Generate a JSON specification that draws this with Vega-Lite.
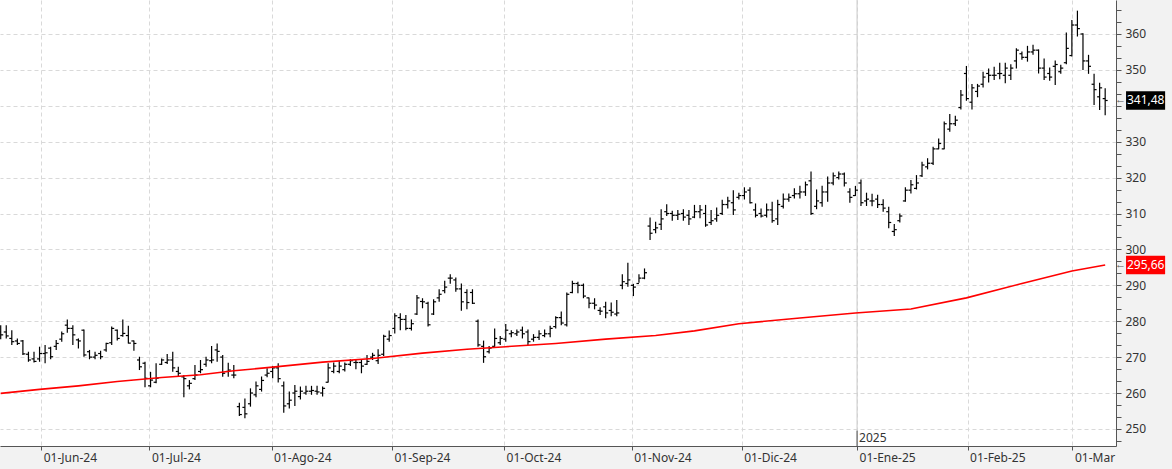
{
  "$schema": "https://vega.github.io/schema/vega-lite/v6.json",
  "width": 1116,
  "height": 446,
  "autosize": {"type": "none"},
  "padding": {"left": 0, "top": 0, "right": 56, "bottom": 23},
  "background": "#f2f2f2",
  "config": {"view": {"fill": "#ffffff", "stroke": null}, "font": "Noto Sans"},
  "datasets": {
    "ohlc": [
      {"i":0,"o":277,"h":278.9,"l":275,"c":276.2},{"i":1,"o":277,"h":278.9,"l":275.2,"c":275.9},{"i":2,"o":275.2,"h":277.5,"l":273.4,"c":274.3},{"i":3,"o":274.5,"h":275.2,"l":273.4,"c":273.8},{"i":4,"o":274.5,"h":274.8,"l":270.6,"c":270.9},
      {"i":5,"o":270.8,"h":271.5,"l":268.7,"c":269.2},{"i":6,"o":269.5,"h":271.5,"l":268.5,"c":268.8},{"i":7,"o":269.5,"h":272.9,"l":268.7,"c":271},{"i":8,"o":271,"h":273.4,"l":268.3,"c":271.2},{"i":9,"o":272.5,"h":272.9,"l":269.4,"c":270.1},
      {"i":10,"o":273,"h":274.8,"l":272,"c":273.8},{"i":11,"o":275,"h":277.1,"l":274.3,"c":276.5},{"i":12,"o":278.9,"h":280.5,"l":276.8,"c":278},{"i":13,"o":278,"h":278.9,"l":273.4,"c":276.2},{"i":14,"o":274.8,"h":275.2,"l":272.4,"c":274.5},
      {"i":15,"o":277.5,"h":277.7,"l":270.1,"c":270.6},{"i":16,"o":271.5,"h":272,"l":269.4,"c":270},{"i":17,"o":270,"h":271.5,"l":269.4,"c":270.5},{"i":18,"o":271,"h":271.8,"l":269.4,"c":270.1},{"i":19,"o":272,"h":274,"l":271.5,"c":273.8},
      {"i":20,"o":274,"h":278.5,"l":273.4,"c":278},{"i":21,"o":277.5,"h":277.7,"l":274.6,"c":275.2},{"i":22,"o":276,"h":280.5,"l":275.7,"c":276.6},{"i":23,"o":276,"h":278.7,"l":273.8,"c":273.9},{"i":24,"o":274.5,"h":274.6,"l":271.8,"c":273.8},
      {"i":25,"o":269.2,"h":270.1,"l":266.4,"c":267.3},{"i":26,"o":268.3,"h":268.7,"l":261.6,"c":264.1},{"i":27,"o":262,"h":265.9,"l":261.6,"c":263.6},{"i":28,"o":263,"h":268.3,"l":262.7,"c":264.1},{"i":29,"o":268,"h":269.6,"l":267.8,"c":269.2},
      {"i":30,"o":268.5,"h":270.9,"l":268.1,"c":269.2},{"i":31,"o":269.2,"h":271.5,"l":265.9,"c":267},{"i":32,"o":266,"h":267.3,"l":264.5,"c":265.5},{"i":33,"o":264.5,"h":265,"l":258.8,"c":264},{"i":34,"o":262,"h":263.6,"l":261,"c":262.7},
      {"i":35,"o":264,"h":267.8,"l":263.6,"c":265},{"i":36,"o":266,"h":269.2,"l":265.5,"c":266.5},{"i":37,"o":268,"h":270.1,"l":267.3,"c":269.2},{"i":38,"o":269,"h":273.1,"l":268.3,"c":269.2},{"i":39,"o":272,"h":273.8,"l":268.7,"c":271.6},
      {"i":40,"o":270,"h":270.6,"l":264.5,"c":265.5},{"i":41,"o":266,"h":268.4,"l":264.5,"c":266.4},{"i":42,"o":265,"h":267.8,"l":264.1,"c":265},{"i":43,"o":256.2,"h":257.3,"l":253.6,"c":254},{"i":44,"o":256,"h":258.5,"l":253,"c":254.2},
      {"i":45,"o":257,"h":261.3,"l":256.2,"c":260},{"i":46,"o":259.5,"h":263.2,"l":258.8,"c":262},{"i":47,"o":261,"h":264.6,"l":260.4,"c":263.5},{"i":48,"o":265,"h":266.9,"l":264.4,"c":265.5},{"i":49,"o":266,"h":267.5,"l":264.1,"c":267},
      {"i":50,"o":267,"h":268.3,"l":262.9,"c":264},{"i":51,"o":262,"h":263.2,"l":254.5,"c":256.4},{"i":52,"o":257,"h":260.4,"l":255.7,"c":258},{"i":53,"o":260,"h":262.2,"l":256.4,"c":260.5},{"i":54,"o":259,"h":261.8,"l":258.2,"c":260.5},
      {"i":55,"o":260,"h":262,"l":259.5,"c":260.5},{"i":56,"o":260.5,"h":262,"l":259.5,"c":260.7},{"i":57,"o":260.5,"h":262,"l":259.5,"c":260.3},{"i":58,"o":260,"h":261.8,"l":259,"c":261.3},{"i":59,"o":263,"h":268.3,"l":262.9,"c":267},
      {"i":60,"o":266,"h":268.5,"l":265.5,"c":267.5},{"i":61,"o":266,"h":268.9,"l":265.5,"c":267.5},{"i":62,"o":266.5,"h":268.5,"l":266,"c":268},{"i":63,"o":268,"h":269.4,"l":267.5,"c":269},{"i":64,"o":268.5,"h":269.4,"l":266.6,"c":268.5},
      {"i":65,"o":268.5,"h":269.2,"l":265.5,"c":267.5},{"i":66,"o":268,"h":270.6,"l":267.8,"c":268.8},{"i":67,"o":270,"h":271.2,"l":269.2,"c":270.5},{"i":68,"o":269,"h":272.2,"l":268.1,"c":270.5},{"i":69,"o":270.8,"h":276.2,"l":270.3,"c":275.8},
      {"i":70,"o":275,"h":277.4,"l":274.3,"c":276},{"i":71,"o":278,"h":282.2,"l":276.6,"c":281.5},{"i":72,"o":281,"h":282.2,"l":277.5,"c":280.5},{"i":73,"o":280.5,"h":281.7,"l":277.5,"c":278},{"i":74,"o":278,"h":280.5,"l":277.4,"c":279.3},
      {"i":75,"o":282,"h":287.3,"l":281.7,"c":286.5},{"i":76,"o":285.5,"h":286.4,"l":283.6,"c":285.4},{"i":77,"o":285,"h":285.4,"l":278.5,"c":279},{"i":78,"o":282,"h":286.1,"l":281.7,"c":285.4},{"i":79,"o":286.5,"h":288.9,"l":285.4,"c":287.5},
      {"i":80,"o":288.5,"h":291.3,"l":287.8,"c":289.5},{"i":81,"o":292,"h":293.1,"l":290.4,"c":292},{"i":82,"o":291.5,"h":292.2,"l":288.2,"c":289},{"i":83,"o":289,"h":290.5,"l":282.9,"c":285.4},{"i":84,"o":288,"h":288.9,"l":283.3,"c":285.2},
      {"i":85,"o":288,"h":288.9,"l":284.8,"c":285},{"i":86,"o":280,"h":280.5,"l":272.9,"c":273.4},{"i":87,"o":273,"h":274.6,"l":268.4,"c":270.1},{"i":88,"o":271.5,"h":273.1,"l":271,"c":272.5},{"i":89,"o":273,"h":278,"l":272.9,"c":275.2},
      {"i":90,"o":274,"h":275.9,"l":273.4,"c":275.2},{"i":91,"o":275,"h":279.2,"l":274.3,"c":277.5},{"i":92,"o":276.5,"h":277.5,"l":275.5,"c":276.8},{"i":93,"o":276.5,"h":277.7,"l":275.9,"c":277},{"i":94,"o":277.5,"h":278.5,"l":275.2,"c":276.5},
      {"i":95,"o":277,"h":277.7,"l":273.4,"c":274.3},{"i":96,"o":275,"h":276.4,"l":274.3,"c":275.5},{"i":97,"o":275.5,"h":277.5,"l":274.8,"c":276.5},{"i":98,"o":276,"h":277.7,"l":275.5,"c":276.5},{"i":99,"o":276.5,"h":278.7,"l":275.5,"c":278},
      {"i":100,"o":278.5,"h":281.4,"l":278,"c":281},{"i":101,"o":281,"h":282.7,"l":278.9,"c":279.5},{"i":102,"o":279,"h":288,"l":278.5,"c":287.5},{"i":103,"o":288,"h":291.3,"l":287.8,"c":290.5},{"i":104,"o":290.5,"h":291,"l":287.8,"c":290},
      {"i":105,"o":290,"h":290.5,"l":286.4,"c":287},{"i":106,"o":286.5,"h":286.6,"l":283.6,"c":285},{"i":107,"o":285,"h":286.4,"l":283.3,"c":284.5},{"i":108,"o":283,"h":283.9,"l":281.7,"c":282.8},{"i":109,"o":284,"h":285.4,"l":280.8,"c":282.3},
      {"i":110,"o":283,"h":285.2,"l":281.4,"c":282.5},{"i":111,"o":282,"h":285.9,"l":281.4,"c":282.3},{"i":112,"o":290,"h":293.1,"l":288.9,"c":291},{"i":113,"o":290.5,"h":296.3,"l":289.6,"c":291.5},{"i":114,"o":290,"h":290.4,"l":287,"c":289.5},
      {"i":115,"o":290.5,"h":293.1,"l":290.7,"c":292},{"i":116,"o":292,"h":294.7,"l":291.7,"c":293.5},{"i":117,"o":306.5,"h":308.9,"l":302.6,"c":304.5},{"i":118,"o":305.5,"h":307.7,"l":304.5,"c":306},{"i":119,"o":307,"h":311.2,"l":305.4,"c":308.5},
      {"i":120,"o":310.5,"h":312.6,"l":309.3,"c":310},{"i":121,"o":310,"h":310.8,"l":308,"c":309.5},{"i":122,"o":309.5,"h":311,"l":308.2,"c":309.8},{"i":123,"o":310,"h":311.2,"l":308,"c":309},{"i":124,"o":309.5,"h":311,"l":306.8,"c":308.5},
      {"i":125,"o":309,"h":312.4,"l":308.7,"c":310.5},{"i":126,"o":310.5,"h":312.4,"l":308.7,"c":311},{"i":127,"o":310,"h":312.4,"l":306.3,"c":306.8},{"i":128,"o":307.5,"h":311,"l":306.8,"c":308},{"i":129,"o":308.5,"h":311.7,"l":307.7,"c":309.5},
      {"i":130,"o":310,"h":313.8,"l":309.6,"c":312.5},{"i":131,"o":312.5,"h":314.7,"l":311.4,"c":313.5},{"i":132,"o":313,"h":316.5,"l":309.6,"c":311},{"i":133,"o":314.5,"h":315.8,"l":313.9,"c":315},{"i":134,"o":315,"h":317.3,"l":313.9,"c":316},
      {"i":135,"o":316.5,"h":317.3,"l":312.8,"c":313},{"i":136,"o":311,"h":312.8,"l":308.9,"c":309.5},{"i":137,"o":310,"h":311.4,"l":308.9,"c":309.3},{"i":138,"o":309.5,"h":312.8,"l":308.9,"c":311},{"i":139,"o":311,"h":313.3,"l":307.4,"c":308},
      {"i":140,"o":308.5,"h":313.8,"l":306.8,"c":312.5},{"i":141,"o":312,"h":315.6,"l":311.4,"c":314},{"i":142,"o":314,"h":315.6,"l":313.3,"c":314.5},{"i":143,"o":315,"h":317,"l":314.2,"c":315.5},{"i":144,"o":315.5,"h":317.7,"l":314.2,"c":316},
      {"i":145,"o":316,"h":318.9,"l":314.9,"c":318},{"i":146,"o":319.1,"h":321.7,"l":309.6,"c":310},{"i":147,"o":312,"h":316.7,"l":311.2,"c":313.5},{"i":148,"o":313,"h":317.7,"l":311.9,"c":316},{"i":149,"o":316,"h":320.3,"l":313.3,"c":318.5},
      {"i":150,"o":318.5,"h":321.4,"l":317.9,"c":320.5},{"i":151,"o":320,"h":321.7,"l":319.5,"c":321},{"i":152,"o":321,"h":321.4,"l":317.5,"c":318.5},{"i":153,"o":316,"h":317,"l":313,"c":314.5},{"i":154,"o":315,"h":317.7,"l":314.9,"c":316.5},
      {"i":155,"o":318.5,"h":319.5,"l":312.1,"c":313},{"i":156,"o":313.5,"h":315.8,"l":312.1,"c":314},{"i":157,"o":313.5,"h":315.5,"l":312,"c":313.5},{"i":158,"o":314,"h":315.2,"l":311.5,"c":312.5},{"i":159,"o":312.5,"h":314,"l":310.5,"c":311.5},
      {"i":160,"o":310.5,"h":311.9,"l":305.9,"c":307.5},{"i":161,"o":305,"h":307.1,"l":303.7,"c":305.5},{"i":162,"o":308,"h":310,"l":307.5,"c":309.3},{"i":163,"o":313.5,"h":317.3,"l":313.3,"c":316.5},{"i":164,"o":316.5,"h":319.3,"l":315.6,"c":318},
      {"i":165,"o":317,"h":320.7,"l":316.7,"c":318.5},{"i":166,"o":320.5,"h":324.4,"l":320.2,"c":323.5},{"i":167,"o":323,"h":325.4,"l":322.3,"c":324},{"i":168,"o":324,"h":328.6,"l":323.5,"c":328},{"i":169,"o":328,"h":330.9,"l":327.9,"c":329.5},
      {"i":170,"o":328,"h":335.6,"l":327.9,"c":335},{"i":171,"o":333.5,"h":337.7,"l":332.8,"c":335},{"i":172,"o":335,"h":337.2,"l":334.4,"c":336},{"i":173,"o":339.5,"h":344.4,"l":339,"c":343},{"i":174,"o":349,"h":351.1,"l":341.4,"c":342},
      {"i":175,"o":341,"h":346.1,"l":339,"c":345},{"i":176,"o":344,"h":346.1,"l":342.4,"c":345.5},{"i":177,"o":346,"h":349.5,"l":345.1,"c":348},{"i":178,"o":349,"h":350.4,"l":346.5,"c":348.5},{"i":179,"o":348.5,"h":350.9,"l":347.2,"c":348.5},
      {"i":180,"o":349,"h":352,"l":347.4,"c":349},{"i":181,"o":348.5,"h":352,"l":346.3,"c":350.5},{"i":182,"o":348.5,"h":351.6,"l":347.2,"c":350.5},{"i":183,"o":352.5,"h":356,"l":350.4,"c":355.5},{"i":184,"o":354.5,"h":355.1,"l":352.8,"c":353.5},
      {"i":185,"o":353.5,"h":356.7,"l":352.3,"c":355},{"i":186,"o":355,"h":357,"l":354.2,"c":355.5},{"i":187,"o":355.5,"h":355.7,"l":349,"c":350.5},{"i":188,"o":350.5,"h":353.2,"l":347.2,"c":348},{"i":189,"o":349,"h":350.7,"l":347,"c":348},
      {"i":190,"o":351,"h":352.6,"l":345.8,"c":351.5},{"i":191,"o":349.5,"h":351.4,"l":348.9,"c":350.5},{"i":192,"o":352,"h":360.4,"l":351.6,"c":356},{"i":193,"o":354,"h":363.9,"l":353.7,"c":362.5},{"i":194,"o":362.5,"h":366.5,"l":359.3,"c":361.5},
      {"i":195,"o":360,"h":360.2,"l":350,"c":352.5},{"i":196,"o":352.5,"h":354.2,"l":348.9,"c":351},{"i":197,"o":346,"h":348.9,"l":340.2,"c":344.5},{"i":198,"o":342.5,"h":346.4,"l":338.8,"c":345},{"i":199,"o":342,"h":344.9,"l":337.4,"c":341.48}
    ],
    "ma": [
      {"i":0,"v":259.9},{"i":7,"v":261.0},{"i":14,"v":262.0},{"i":21,"v":263.2},{"i":29,"v":264.3},{"i":36,"v":265.1},{"i":42,"v":266.2},{"i":49,"v":267.2},{"i":58,"v":268.6},{"i":67,"v":269.6},{"i":76,"v":271.1},{"i":84,"v":272.2},{"i":91,"v":272.9},{"i":100,"v":273.8},{"i":109,"v":275.0},{"i":118,"v":276.0},{"i":125,"v":277.3},{"i":133,"v":279.3},{"i":144,"v":280.9},{"i":154,"v":282.3},{"i":164,"v":283.4},{"i":174,"v":286.5},{"i":184,"v":290.5},{"i":193,"v":294.0},{"i":199,"v":295.66}
    ]
  },
  "encoding": {
    "x": {"type": "quantitative", "scale": {"domain": [-0.126, 200.95], "nice": false, "zero": false},
      "axis": {"orient": "bottom", "title": null, "values": [7.3, 26.8, 48.8, 70.5, 90.7, 113.7, 133.5, 154.3, 174.2, 193.1],
        "labelExpr": "datum.value < 10 ? '01-Jun-24' : datum.value < 30 ? '01-Jul-24' : datum.value < 50 ? '01-Ago-24' : datum.value < 80 ? '01-Sep-24' : datum.value < 100 ? '01-Oct-24' : datum.value < 120 ? '01-Nov-24' : datum.value < 140 ? '01-Dic-24' : datum.value < 160 ? '01-Ene-25' : datum.value < 180 ? '01-Feb-25' : '01-Mar'",
        "labelAlign": "left", "labelOffset": 2, "labelPadding": 2, "labelFontSize": 12, "labelColor": "#333333", "labelOverlap": false, "labelFlush": false, "labelBound": false,
        "tickSize": 4, "tickColor": "#555555", "domainColor": "#555555", "domainWidth": 1,
        "grid": true, "gridColor": "#d9d9d9", "gridDash": [4, 3], "gridWidth": 1}},
    "y": {"type": "quantitative", "scale": {"domain": [245.24, 369.47], "nice": false, "zero": false},
      "axis": {"orient": "right", "title": null,
        "values": [246.667, 250, 253.333, 256.667, 260, 263.333, 266.667, 270, 273.333, 276.667, 280, 283.333, 286.667, 290, 293.333, 296.667, 300, 303.333, 306.667, 310, 313.333, 316.667, 320, 323.333, 326.667, 330, 333.333, 336.667, 340, 343.333, 346.667, 350, 353.333, 356.667, 360, 363.333, 366.667],
        "labelExpr": "abs(datum.value/10 - round(datum.value/10)) < 0.001 && abs(datum.value - 340) > 0.5 ? format(datum.value, 'd') : ''",
        "labelFontSize": 12, "labelColor": "#333333", "labelPadding": 4, "labelOverlap": false, "labelFlush": false, "labelBound": false,
        "tickSize": 5, "tickColor": "#555555", "domainColor": "#555555", "domainWidth": 1,
        "grid": true, "gridColor": "#d9d9d9", "gridDash": [4, 3], "gridWidth": 1,
        "gridOpacity": {"condition": {"test": "abs(datum.value/10 - round(datum.value/10)) > 0.001", "value": 0}, "value": 1}}}
  },
  "layer": [
    {
      "data": {"values": [{"i": 154.3}]},
      "mark": {"type": "rule", "color": "#d0d0d0", "strokeWidth": 1.2},
      "encoding": {"x": {"field": "i"}, "y": null}
    },
    {
      "data": {"name": "ohlc"},
      "mark": {"type": "rule", "color": "#000000", "strokeWidth": 1.2},
      "encoding": {"x": {"field": "i"}, "y": {"field": "l"}, "y2": {"field": "h"}}
    },
    {
      "data": {"name": "ohlc"},
      "mark": {"type": "rule", "color": "#000000", "strokeWidth": 1.2, "xOffset": -2.5, "x2Offset": 0},
      "encoding": {"x": {"field": "i"}, "x2": {"field": "i"}, "y": {"field": "o"}}
    },
    {
      "data": {"name": "ohlc"},
      "mark": {"type": "rule", "color": "#000000", "strokeWidth": 1.2, "xOffset": 0, "x2Offset": 2.5},
      "encoding": {"x": {"field": "i"}, "x2": {"field": "i"}, "y": {"field": "c"}}
    },
    {
      "data": {"name": "ma"},
      "mark": {"type": "line", "color": "#ff0000", "strokeWidth": 1.6},
      "encoding": {"x": {"field": "i"}, "y": {"field": "v"}}
    },
    {
      "data": {"values": [{"i": 154.3, "a": 249.5, "b": 245.24, "t": "2025", "ty": 247.6}]},
      "layer": [
        {"mark": {"type": "rule", "color": "#555555", "strokeWidth": 1},
         "encoding": {"x": {"field": "i"}, "y": {"field": "a"}, "y2": {"field": "b"}}},
        {"mark": {"type": "text", "align": "left", "baseline": "middle", "dx": 2, "fontSize": 12, "color": "#333333"},
         "encoding": {"x": {"field": "i"}, "y": {"field": "ty"}, "text": {"field": "t"}}}
      ]
    },
    {
      "data": {"values": [
        {"v": 341.48, "t": "341,48", "bg": "#000000", "top": 344.08, "bot": 338.88, "x1": 202.76, "x2": 209.8, "xm": 206.3, "xa": 201.75},
        {"v": 295.66, "t": "295,66", "bg": "#ff0000", "top": 298.26, "bot": 293.06, "x1": 202.76, "x2": 209.8, "xm": 206.3, "xa": 201.75}
      ]},
      "layer": [
        {"mark": {"type": "rect", "clip": false},
         "encoding": {"x": {"field": "x1"}, "x2": {"field": "x2"}, "y": {"field": "top"}, "y2": {"field": "bot"},
           "color": {"field": "bg", "type": "nominal", "scale": null}}},
        {"mark": {"type": "text", "align": "center", "baseline": "middle", "fontSize": 12, "color": "#ffffff"},
         "encoding": {"x": {"field": "xm"}, "y": {"field": "v"}, "text": {"field": "t"}}},
        {"mark": {"type": "text", "align": "center", "baseline": "middle", "fontSize": 11, "color": "#555555", "text": "←"},
         "encoding": {"x": {"field": "xa"}, "y": {"field": "v"}}}
      ]
    }
  ]
}
